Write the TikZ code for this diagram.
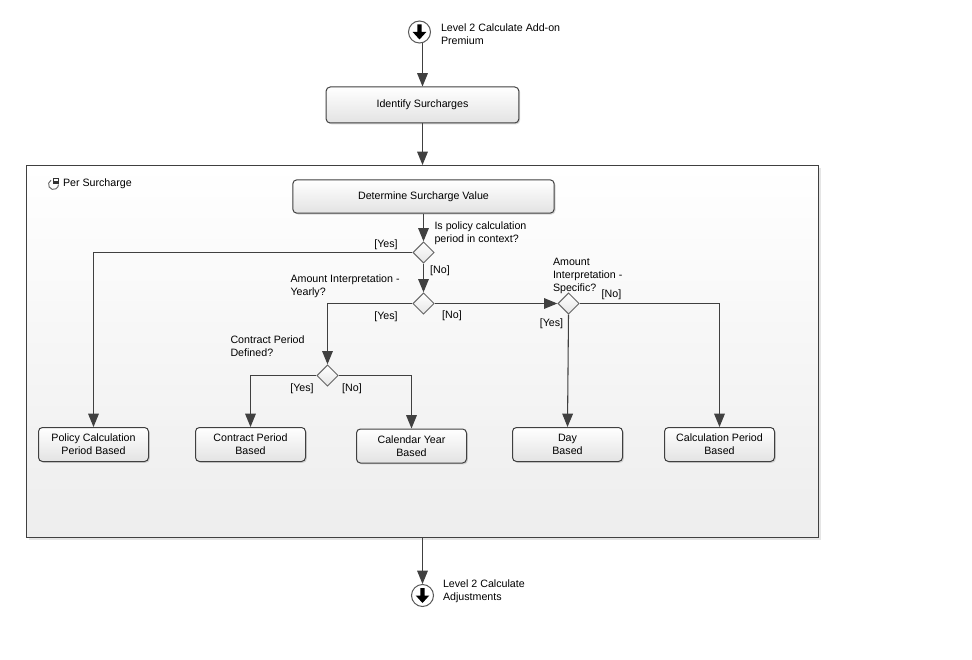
\documentclass[tikz,border=0pt]{standalone}
\usepackage{fontspec}
\setmainfont{Liberation Sans}
\usetikzlibrary{arrows.meta,shapes.geometric,shadows}
\definecolor{linegray}{HTML}{404040}
\newcommand{\downglyph}[1]{\fill[black,shift={(#1.center)}] (-2.2,-7.5) -- (2.2,-7.5) -- (2.2,0) -- (6.8,0) -- (0,7.5) -- (-6.8,0) -- (-2.2,0) -- cycle;}
\begin{document}
\begin{tikzpicture}[x=0.75pt,y=-0.75pt,>={Triangle[length=10pt,width=8pt]},
                line width=0.75pt,font=\fontsize{8}{9.75}\selectfont,
                flow/.style={->,draw=linegray,line width=0.8pt},
                task node/.style={draw=linegray,rounded corners=3pt,top color=white,bottom color=black!11,
                  minimum width=82.5pt,minimum height=25.5pt,inner sep=0pt,align=center,
                  drop shadow={shadow xshift=1pt,shadow yshift=-1pt,fill=black!30,draw=none,opacity=0.5}},
                decision node/.style={diamond,draw=black!60,top color=white,bottom color=black!10,
                  minimum size=16pt,inner sep=0pt},
                event node/.style={circle,draw=black!65,fill=white,minimum size=16.5pt,inner sep=0pt},
                note node/.style={anchor=west,align=left,inner sep=0pt},
                guard node/.style={inner sep=0pt}]
  \useasboundingbox (0,0) rectangle (972,660);

  % outer loop region
  \node[draw=linegray,rectangle,top color=white,bottom color=black!7,minimum width=594pt,minimum height=279pt,
        inner sep=0pt,drop shadow={shadow xshift=1.5pt,shadow yshift=-1.5pt,fill=black!25,draw=none,opacity=0.4}] (region) at (422.5,351.5) {};
  \node[note node] (regionlabel) at (62.5,183.5) {Per Surcharge};
  \draw[black!60,line width=0.7pt] (53.5,184.5) ++(-120:5) arc (-120:-360:5);
  \fill[black!80] (53,178) rectangle (59,184);
  \fill[white] (54.2,179) rectangle (57.8,181);

  \node[event node] (start) at (419.5,32) {};
  \node[event node] (end) at (422.5,595.5) {};
  \downglyph{start}
  \downglyph{end}
  \node[note node] (startlabel) at (440.5,34) {Level 2 Calculate Add-on\\Premium};
  \node[note node] (endlabel) at (442.5,591.5) {Level 2 Calculate\\Adjustments};

  \node[task node,minimum width=144.5pt,minimum height=27pt] (identify) at (422.5,105) {Identify Surcharges};
  \node[task node,minimum width=196pt,minimum height=25pt] (determine) at (423.5,196.5) {Determine Surcharge Value};

  \node[decision node] (policy) at (423.5,252.5) {};
  \node[decision node] (yearly) at (423.5,303.5) {};
  \node[decision node] (specific) at (568.5,303.5) {};
  \node[decision node] (defined) at (327.5,375.5) {};

  \node[task node] (policybased) at (93.5,444.5) {Policy Calculation\\Period Based};
  \node[task node] (contractbased) at (250.5,444.5) {Contract Period\\Based};
  \node[task node] (calendarbased) at (411.5,446) {Calendar Year\\Based};
  \node[task node] (daybased) at (567.5,444.5) {Day\\Based};
  \node[task node] (calcbased) at (719.5,444.5) {Calculation Period\\Based};

  \node[note node] (policyq) at (434,233) {Is policy calculation\\period in context?};
  \node[note node] (yearlyq) at (290,286.5) {Amount Interpretation -\\Yearly?};
  \node[note node] (specificq) at (552.5,276) {Amount\\Interpretation -\\Specific?};
  \node[note node] (definedq) at (230,346) {Contract Period\\Defined?};

  \node[guard node] (g1) at (386,245) {[Yes]};
  \node[guard node] (g2) at (440,271) {[No]};
  \node[guard node] (g3) at (386,317) {[Yes]};
  \node[guard node] (g4) at (452,315.5) {[No]};
  \node[guard node] (g5) at (551.5,323.5) {[Yes]};
  \node[guard node] (g6) at (611.5,294.5) {[No]};
  \node[guard node] (g7) at (302,388.5) {[Yes]};
  \node[guard node] (g8) at (352,388.5) {[No]};

  \draw[flow] (start.south -| identify) -- (identify.north);
  \draw[flow] (identify.south) -- (identify.south |- region.north);
  \draw[flow] (determine.south -| policy) -- (policy.north);
  \draw[flow] (policy.south) -- (yearly.north);
  \draw[flow] (policy.west) -| (policybased.north);
  \draw[flow] (yearly.west) -| (defined.north);
  \draw[flow] (yearly.east) -- (specific.west);
  \draw[flow] (defined.west) -| (contractbased.north);
  \draw[flow] (defined.east) -| (calendarbased.north);
  \draw[flow] (specific.south) -- (daybased.north);
  \draw[flow] (specific.east) -| (calcbased.north);
  \draw[flow] (region.south -| end) -- (end.north);
\end{tikzpicture}
\end{document}
